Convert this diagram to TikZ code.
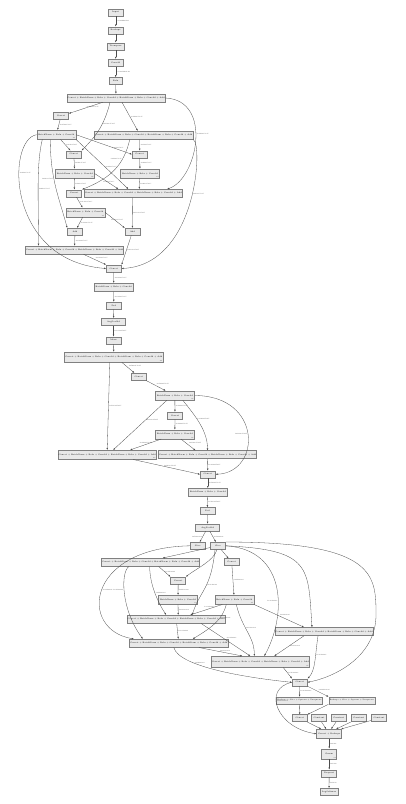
\documentclass[tikz,border=0pt]{standalone}
\usetikzlibrary{arrows.meta}
\newcommand{\fused}{Concat + BatchNorm + Relu + Conv2d + BatchNorm + Relu + Conv2d + Add}
\newcommand{\bnrc}{BatchNorm + Relu + Conv2d}
\tikzset{op/.style={draw=black!50,fill=black!9,line width=.6pt,minimum width=15,minimum height=7,inner sep=.5pt,font=\fontsize{2}{2.3}\selectfont},wide/.style={op,minimum width=96,minimum height=8},blk/.style={op,minimum width=39,minimum height=9},rep/.style={label={[lab,anchor=south east,inner sep=.9pt]south east:#1}},edge/.style={-{Latex[length=2pt,width=1.6pt]},black!70,line width=.3pt},lab/.style={font=\fontsize{1.6}{1.9}\selectfont,inner sep=.6pt,text=black!75}}

\begin{document}
\begin{tikzpicture}[x=1pt,y=-1pt]
\path[fill=white] (0,0) rectangle (406,804);\useasboundingbox (0,0) rectangle (406,804);
\node[op] (in) at (115.7,12.3) {Input};\node[op] (rs) at (115.7,30.3) {Reshape};\node[op,minimum width=17] (tp) at (115.7,46.3) {Transpose};\node[op] (cv) at (115.7,62.7) {Conv2d};\node[op,minimum width=13] (rl) at (115.7,81) {Relu};
\node[wide] (ta) at (116,98) {\fused};\node[op] (c1) at (61,116) {Concat};\node[blk,rep=x2] (b1) at (56.3,134.7) {\bnrc};\node[wide] (r1) at (143.8,135.2) {\fused};
\node[op] (c2) at (73.8,154.3) {Concat};\node[op] (c3) at (139.7,154.3) {Concat};\node[blk,rep=x2] (b2) at (74.8,173.5) {\bnrc};\node[blk,rep=x2] (b3) at (140,173.5) {\bnrc};
\node[op] (c4) at (74.2,193.3) {Concat};\node[wide] (w2) at (133.3,193.3) {\fused};\node[blk,rep=x2] (b4) at (85.3,212.3) {\bnrc};\node[op] (a1) at (75,231.7) {Add};\node[op] (a2) at (132.5,231.7) {Add};
\node[wide] (w3) at (74.5,250) {\fused};\node[op] (m1) at (113.8,268.5) {Concat};\node[blk,minimum height=8] (b5) at (113.7,287.2) {\bnrc};
\node[op] (p1) at (113.8,305.5) {Pad};\node[op,minimum width=24] (g1) at (113.5,321.8) {AvgPool2d};\node[op] (e1) at (113.5,340.3) {Mean};
\node[wide,minimum height=10,rep=x4] (t2) at (113.8,357) {\fused};\node[op] (c5) at (138.8,376.7) {Concat};\node[blk,rep=x2] (b6) at (174.8,395.5) {\bnrc};\node[op] (c6) at (175,415.5) {Concat};\node[blk,rep=x2] (b7) at (174.8,434.3) {\bnrc};
\node[wide,minimum height=9,rep=x2] (wl) at (107.2,454.7) {\fused};\node[wide] (wr) at (207.5,454.7) {\fused};\node[op] (m2) at (207.8,474.3) {Concat};\node[blk,minimum height=8] (b8) at (207.8,492.3) {\bnrc};
\node[op] (p2) at (207.3,511) {Pad};\node[op,minimum width=24] (g2) at (207.7,527.5) {AvgPool2d};\node[op] (s1) at (197.7,545.8) {Slice};\node[op] (s2) at (218,545.8) {Slice};
\node[wide] (w4) at (150.7,562.3) {\fused};\node[op] (c7) at (231.7,562.2) {Concat};\node[op] (c8) at (178.2,580.5) {Concat};\node[blk,rep=x2] (b9) at (178,599.7) {\bnrc};\node[blk,rep=x2] (b10) at (234.3,599.7) {\bnrc};
\node[wide] (wa) at (176.2,619.2) {\fused};\node[wide] (wb) at (324,631.5) {\fused};\node[wide] (wc) at (178.8,643.2) {\fused};\node[wide,minimum height=11,rep=x2] (wd) at (260.3,661.8) {\fused};
\node[op] (m3) at (299.8,682.3) {Concat};\node[op,minimum width=46,font=\fontsize{1.8}{2}\selectfont] (q1) at (299.5,700.5) {Reshape + Slice + Squeeze + Unsqueeze};\node[op,minimum width=46,font=\fontsize{1.8}{2}\selectfont] (q2) at (351.8,700.5) {Reshape + Slice + Squeeze + Unsqueeze};
\node[op] (k1) at (299.8,718.2) {Concat};\node[op] (k2) at (319,718.2) {Constant};\node[op] (k3) at (338.7,718.2) {Constant};\node[op] (k4) at (358.8,718.2) {Constant};\node[op] (k5) at (379,718.2) {Constant};
\node[op,minimum width=25,minimum height=9] (x) at (329.2,733.8) {Concat + Reshape};\node[op,minimum height=10,rep=x2] (y) at (329.2,753.8) {Gemm};\node[op] (z) at (329.2,773.3) {Dropout};\node[op,minimum width=18] (ls) at (329,791.8) {LogSoftmax};
\coordinate (r3) at (376,615);
\draw[edge] (in) -- node[lab,right]{1x3x299x299} (rs);\draw[edge] (rs) -- (tp);\draw[edge] (tp) -- (cv);\draw[edge] (cv) -- node[lab,right]{1x32x149x149} (rl);\draw[edge] (rl) -- (ta);
\draw[edge] (ta) -- node[lab,above right]{1x192x35x35} (c1);\draw[edge] ([xshift=-6]ta.south) .. controls +(-6,25) and +(12,-12) .. (c2.north east) node[lab,pos=.35,right]{1x192x35x35};\draw[edge] ([xshift=6]ta.south) -- node[lab,right]{1x192x35x35} ([xshift=-6]r1.north);\draw[edge] (ta.east) .. controls +(48,2) and +(30,-10) .. ([xshift=34]w2.north) node[lab,pos=.45,right]{1x192x35x35};
\draw[edge] (c1) -- node[lab,right]{1x256x35x35} (b1);\draw[edge] (b1) -- node[lab,right]{1x64x35x35} (c2);\draw[edge] (b1.east) -- node[lab,above,pos=.75]{1x64x35x35} (c3.west);\draw[edge] (b1.south east) -- node[lab,right,pos=.55]{1x64x35x35} ([xshift=-5]w2.north);
\draw[edge] ([xshift=-6]b1.south) .. controls +(0,40) and +(-8,-30) .. (a1.north west) node[lab,pos=.4,left]{1x64x35x35};\draw[edge] ([xshift=-14]b1.south) .. controls +(-6,25) and +(0,-50) .. ([xshift=-36]w3.north) node[lab,pos=.55,right]{1x64x35x35};\draw[edge] (b1.west) .. controls +(-30,5) and +(-100,-8) .. (m1.west) node[lab,pos=.35,right]{1x64x35x35};
\draw[edge] ([xshift=-4]r1.south) -- node[lab,right]{1x48x35x35} (c3);\draw[edge] ([xshift=-14]r1.south) .. controls +(-6,25) and +(30,-12) .. (c4.north east) node[lab,pos=.3,left]{1x48x35x35};\draw[edge] (r1.south east) .. controls +(10,3) and +(76,-4) .. (m1.east) node[lab,pos=.45,right]{1x48x35x35};
\draw[edge] (c2) -- node[lab,right]{1x96x35x35} (b2);\draw[edge] (c3) -- node[lab,right]{1x96x35x35} (b3);\draw[edge] (b2) -- node[lab,right]{1x96x35x35} (c4);\draw[edge] (b2.east) -- node[lab,above,pos=.6]{1x96x35x35} ([xshift=-15]w2.north);\draw[edge] (b3) -- node[lab,right]{1x96x35x35} ([xshift=6]w2.north);
\draw[edge] (c4) -- node[lab,right]{1x128x35x35} (b4);\draw[edge] (b4) -- node[lab,right]{1x128x35x35} (a1);\draw[edge] (b4.east) -- node[lab,above,pos=.6]{1x128x35x35} (a2.north west);\draw[edge] ([xshift=-1]w2.south) -- node[lab,right]{1x128x35x35} (a2);
\draw[edge] (a1) -- node[lab,right]{1x128x35x35} (w3);\draw[edge] (a2) -- node[lab,right]{1x128x35x35} (m1.north east);\draw[edge] ([xshift=9]w3.south) -- node[lab,above right]{1x128x35x35} (m1.north west);\draw[edge] (m1) -- node[lab,right]{1x288x35x35} (b5);
\draw[edge] (b5) -- node[lab,right]{1x384x35x35} (p1);\draw[edge] (p1) -- (g1);\draw[edge] (g1) -- node[lab,right]{1x384x17x17} (e1);\draw[edge] (e1) -- (t2);
\draw[edge] ([xshift=8]t2.south) -- node[lab,above right]{1x768x17x17} (c5);\draw[edge] ([xshift=-4]t2.south) -- node[lab,right]{1x768x17x17} (wl.north);\draw[edge] (c5) -- node[lab,above right]{1x768x17x17} (b6);
\draw[edge] (b6) -- node[lab,right]{1x160x17x17} (c6);\draw[edge] ([xshift=-8]b6.south) -- node[lab,right,pos=.4]{1x160x17x17} ([xshift=6]wl.north);\draw[edge] ([xshift=8]b6.south) .. controls +(12,15) and +(0,-20) .. (wr.north) node[lab,pos=.4,right]{1x160x17x17};\draw[edge] (b6.east) .. controls +(68,0) and +(46,-2) .. (m2.east) node[lab,pos=.5,left]{1x160x17x17};
\draw[edge] (c6) -- node[lab,right]{1x160x17x17} (b7);\draw[edge] (b7) -- node[lab,above]{1x192x17x17} ([xshift=23]wl.north);\draw[edge] (b7) -- node[lab,above right]{1x192x17x17} ([xshift=-12]wr.north);
\draw[edge] ([xshift=26]wl.south) -- node[lab,above,pos=.55]{1x192x17x17} (m2.west);\draw[edge] (wr) -- node[lab,right]{1x192x17x17} (m2);\draw[edge] (m2) -- node[lab,right]{1x768x17x17} (b8);
\draw[edge] (b8) -- node[lab,right]{1x768x17x17} (p2);\draw[edge] (p2) -- (g2);\draw[edge] (g2) -- node[lab,left]{1x768x8x8} (s1);\draw[edge] (g2) -- node[lab,right]{1x768x8x8} (s2);
\draw[edge] (s1.west) .. controls +(-105,2) and +(-55,-9) .. ([xshift=-45]wc.north) node[lab,pos=.5,right]{1x384x8x8};\draw[edge] (s2) -- ([xshift=12]w4.north);\draw[edge] (s2) -- (c7);\draw[edge] (s2) .. controls +(-4,15) and +(10,-8) .. (c8.north east);
\draw[edge] ([xshift=-3]s2.south) .. controls +(-4,40) and +(8,-25) .. ([xshift=16]wa.north) node[lab,pos=.45,right]{1x384x8x8};\draw[edge] (s2.east) .. controls +(62,4) and +(22,-40) .. ([xshift=4]wd.north) node[lab,pos=.6,left]{1x384x8x8};\draw[edge] (s2.east) .. controls +(86,4) and +(-4,-60) .. ([xshift=-12]wb.north);
\draw[edge] (s2.north east) .. controls +(150,0) and +(0,-40) .. (r3) .. controls +(0,40) and +(30,-6) .. (m3.east);
\draw[edge] ([xshift=8]w4.south) -- node[lab,right]{1x448x8x8} (c8.north west);\draw[edge] ([xshift=-1]w4.south) .. controls +(0,18) and +(-8,-12) .. ([xshift=-10]wa.north) node[lab,pos=.5,right]{1x448x8x8};\draw[edge] ([xshift=-22]w4.south) .. controls +(-8,6) and +(-22,-30) .. ([xshift=-36]wc.north) node[lab,pos=.45,left]{1x448x8x8};
\draw[edge] (c7) -- node[lab,right]{1x448x8x8} (b10);\draw[edge] (c8) -- node[lab,right]{1x448x8x8} (b9);\draw[edge] (b9) -- node[lab,right]{1x384x8x8} ([xshift=2]wa.north);\draw[edge] ([xshift=-12]b10.south) -- node[lab,above,pos=.4]{1x384x8x8} ([xshift=14]wa.north);
\draw[edge] ([xshift=-8]b10.south) .. controls +(-4,15) and +(20,-12) .. ([xshift=14]wc.north) node[lab,pos=.35,right]{1x384x8x8};\draw[edge] ([xshift=2]b10.south) .. controls +(6,25) and +(0,-20) .. ([xshift=-6]wd.north) node[lab,pos=.4,right]{1x384x8x8};\draw[edge] (b10.south east) -- node[lab,above right,pos=.5]{1x384x8x8} ([xshift=-20]wb.north);
\draw[edge] (wa) -- node[lab,right]{1x384x8x8} (wc);\draw[edge] ([xshift=25]wa.south) -- node[lab,above right,pos=.5]{1x384x8x8} ([xshift=-10]wd.north);\draw[edge] ([xshift=20]wc.south) -- node[lab,above,pos=.6]{1x384x8x8} ([xshift=-18]wd.north);\draw[edge] ([xshift=-5]wc.south) .. controls +(5,20) and +(-40,-4) .. (m3.west) node[lab,pos=.3,right]{1x192x8x8};
\draw[edge] ([xshift=-20]wb.south) -- node[lab,right]{1x384x8x8} ([xshift=14]wd.north);\draw[edge] ([xshift=-6]wb.south) .. controls +(-3,20) and +(8,-8) .. (m3.north east) node[lab,pos=.35,right]{1x384x8x8};\draw[edge] ([xshift=23]wd.south) -- node[lab,right]{1x768x8x8} (m3.north west);
\draw[edge] (m3) -- node[lab,right]{1x2048x8x8} (q1);\draw[edge] (m3) -- node[lab,above right]{1x2048x8x8} (q2.north west);\draw[edge] (m3.west) .. controls +(-30,6) and +(-40,-6) .. (x.west) node[lab,pos=.4,right]{1x2048x8x8};
\draw[edge] (q1) -- (k1);\draw[edge] (q2.south west) -- (k1.north east);\draw[edge] (k1) -- ([xshift=-8]x.north);\draw[edge] (k2) -- ([xshift=-3]x.north);\draw[edge] (k3) -- ([xshift=2]x.north);\draw[edge] (k4) -- ([xshift=7]x.north);\draw[edge] (k5) -- ([xshift=12]x.north);
\draw[edge] (x) -- node[lab,right]{1x2048} (y);\draw[edge] (y) -- node[lab,right]{1x1000} (z);\draw[edge] (z) -- node[lab,right]{1x1000} (ls);
\end{tikzpicture}
\end{document}
